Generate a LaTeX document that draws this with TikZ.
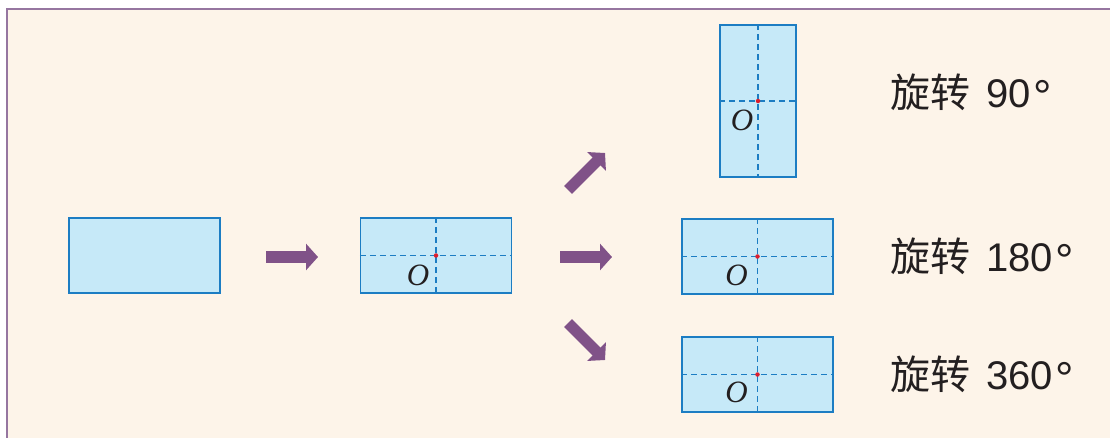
\documentclass[tikz,border=0pt]{standalone}
\usepackage[no-math]{fontspec}
\setmainfont{Liberation Sans}
\newfontfamily\cjk{Noto Sans CJK SC}
\newfontfamily\oserif{Liberation Serif}
\usetikzlibrary{arrows.meta}
\definecolor{bg}{RGB}{253,244,233}
\definecolor{framec}{RGB}{150,118,160}
\definecolor{paper}{RGB}{198,233,248}
\definecolor{edgec}{RGB}{28,125,195}
\definecolor{arrowc}{RGB}{128,82,136}
\definecolor{ptc}{RGB}{220,30,45}
\definecolor{txt}{RGB}{35,31,32}
\newcommand{\degsym}{\hspace{3pt}{\fontsize{46}{46}\selectfont\raisebox{-5pt}{°}}}
\begin{document}
\begin{tikzpicture}[x=1pt,y=-1pt,
  paperbox/.style={draw=edgec, fill=paper, line width=1.4pt, inner sep=0pt,
    minimum width=151pt, minimum height=75pt},
  tallbox/.style={paperbox, minimum width=76pt, minimum height=152pt},
  foldline/.style={draw=edgec, line width=1.2pt, dash pattern=on 6pt off 4pt},
  bigarrow/.style={draw=arrowc, line width=11pt, -{Triangle[length=12pt,width=26pt]}},
  dot/.style={circle, fill=ptc, inner sep=0pt, minimum size=4.5pt},
  olab/.style={inner sep=0pt, text=txt, font=\oserif\itshape\fontsize{31}{31}\selectfont},
  lab/.style={inner sep=0pt, text=txt, font=\fontsize{40}{40}\selectfont}]
\useasboundingbox (0,0) rectangle (1110,438);
\fill[bg] (7,9) rectangle (1110,438);
\draw[framec, line width=1.6pt] (7,438) -- (7,9) -- (1110,9);

% rectangles
\node[paperbox] (r1) at (144.5,255.5) {};
\node[paperbox] (r2) at (436,255.5) {};
\node[tallbox]  (r3) at (758,101) {};
\node[paperbox] (r4) at (757.5,256.5) {};
\node[paperbox] (r5) at (757.5,374.5) {};

% fold lines, centres and labels
\foreach \r/\dx/\dy in {r2/-18/20, r3/-16/19, r4/-21/19, r5/-21/18}{
  \draw[foldline] (\r.north) -- (\r.south);
  \draw[foldline] (\r.west) -- (\r.east);
  \node[dot] (\r c) at (\r.center) {};
  \node[olab, xshift=\dx pt, yshift=-\dy pt] (\r o) at (\r.center) {O};
}

% arrows
\coordinate (a1s) at (266,257);
\coordinate (a1e) at (318,257);
\coordinate (a2s) at (560,257);
\coordinate (a2e) at (612,257);
\coordinate (a3s) at (568,190);
\coordinate (a3e) at (605,153);
\coordinate (a4s) at (568,323);
\coordinate (a4e) at (605,360);
\draw[bigarrow] (a1s) -- (a1e);
\draw[bigarrow] (a2s) -- (a2e);
\draw[bigarrow] (a3s) -- (a3e);
\draw[bigarrow] (a4s) -- (a4e);

% texts
\node[lab, anchor=base west] (t1) at (890,108) {{\cjk 旋转}\hspace{0.4em}90\degsym};
\node[lab, anchor=base west] (t2) at (890,272) {{\cjk 旋转}\hspace{0.4em}180\degsym};
\node[lab, anchor=base west] (t3) at (890,389) {{\cjk 旋转}\hspace{0.4em}360\degsym};
\end{tikzpicture}
\end{document}
